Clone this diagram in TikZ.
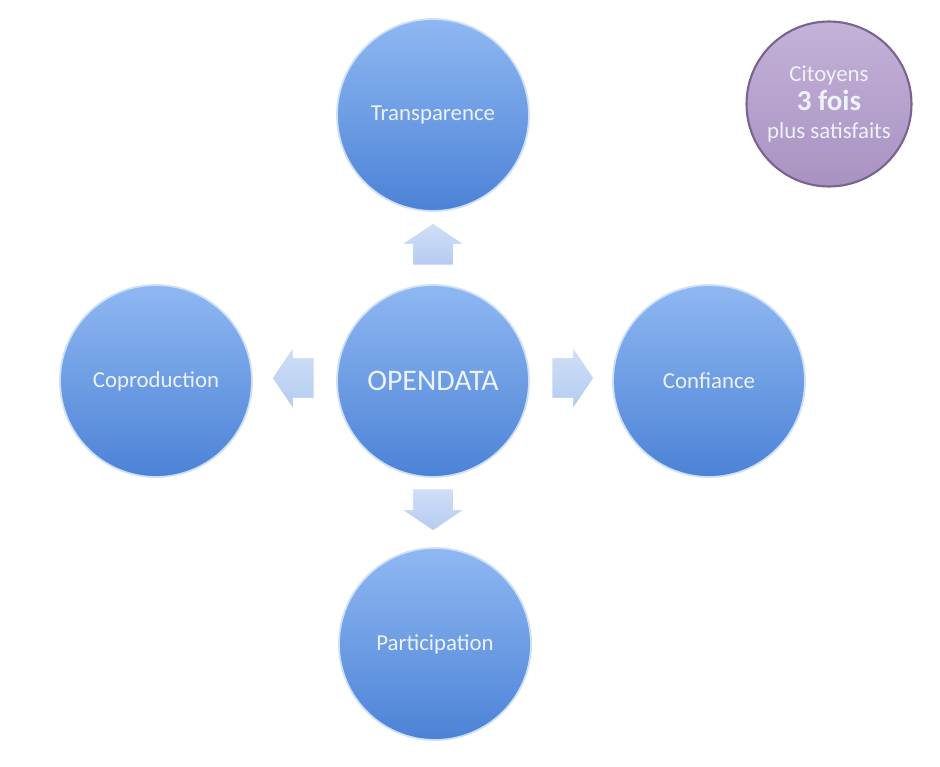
\documentclass[tikz,border=0pt]{standalone}
\usepackage{fontspec}
\setmainfont{Carlito}
\usetikzlibrary{shapes.arrows}

\definecolor{bluetop}{RGB}{143,184,242}
\definecolor{bluebot}{RGB}{76,130,214}
\definecolor{bluerim}{RGB}{205,224,250}
\definecolor{lilactop}{RGB}{196,178,216}
\definecolor{lilacbot}{RGB}{168,146,194}
\definecolor{lilacrim}{RGB}{120,100,142}
\definecolor{arrowtop}{RGB}{208,223,247}
\definecolor{arrowbot}{RGB}{180,203,240}
\definecolor{txt}{RGB}{236,242,250}

\begin{document}
\begin{tikzpicture}[x=0.02cm, y=-0.02cm,
	main/.style = {circle, minimum size=3.84cm, inner sep=0pt, top color=bluetop, bottom color=bluebot, draw=bluerim, line width=1pt, text=txt, font=\fontsize{13}{15}\selectfont},
	flow/.style = {single arrow, minimum height=0.84cm, single arrow head extend=0.22cm, single arrow tip angle=112, inner xsep=0pt, inner ysep=0.4cm, top color=arrowtop, bottom color=arrowbot, draw=white, line width=0.6pt},
	badge/.style = {circle, minimum size=3.3cm, inner sep=0pt, top color=lilactop, bottom color=lilacbot, draw=lilacrim, line width=1.2pt, text=txt, align=center, font=\fontsize{13}{16}\selectfont}]

		\useasboundingbox (0,0) rectangle (940,767);

		\node[main] (T) at (433,115) {Transparence};
		\node[main] (C) at (156,381) {Coproduction};
		\node[main, font=\fontsize{17}{19}\selectfont] (O) at (433,381) {OPENDATA};
		\node[main] (F) at (709,381) {Confiance};
		\node[main] (P) at (435,644) {Participation};

		\node[flow, rotate=90] (up) at (433,251) {};
		\node[flow, rotate=180] (left) at (300,378) {};
		\node[flow] (right) at (566,378) {};
		\node[flow, rotate=270] (down) at (433,503) {};

		\node[badge] (cit) at (829,104) {Citoyens\\{\bfseries\fontsize{16.5}{16}\selectfont 3 fois}\\plus satisfaits};
	\end{tikzpicture}
\end{document}
